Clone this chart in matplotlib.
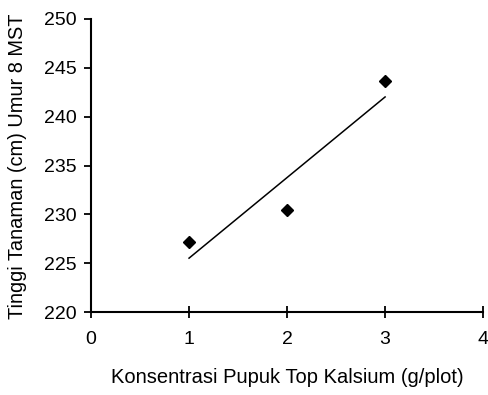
import numpy as np
import matplotlib
matplotlib.use("Agg")
import matplotlib.pyplot as plt

plt.rcParams['font.family'] = ['Liberation Sans', 'DejaVu Sans']

# data
konsentrasi = [1, 2, 3]
tinggi = [227.2, 230.4, 243.7]

x_ticks = [0, 1, 2, 3, 4]
y_ticks = [220, 225, 230, 235, 240, 245, 250]

fig = plt.figure(figsize=(4.88, 3.95), dpi=100)
ax = fig.add_axes([0.1865, 0.21, 0.8035, 0.742])

# linear trend line
slope, intercept = np.polyfit(konsentrasi, tinggi, 1)
xs = np.array([min(konsentrasi), max(konsentrasi)])
ax.plot(xs, slope * xs + intercept, color='black', linewidth=1.1)

ax.plot(konsentrasi, tinggi, linestyle='none', marker='D', markersize=6.5,
        color='black')

ax.set_xlim(0, 4)
ax.set_ylim(220, 250)
ax.set_xticks(x_ticks)
ax.set_yticks(y_ticks)

for s in ['top', 'right']:
    ax.spines[s].set_visible(False)
for s in ['left', 'bottom']:
    ax.spines[s].set_linewidth(1.5)

ax.tick_params(axis='x', direction='inout', length=8, width=1.3, labelsize=14, pad=10)
ax.tick_params(axis='y', direction='out', length=5, width=1.3, labelsize=14, pad=5)

ax.set_xlabel('Konsentrasi Pupuk Top Kalsium (g/plot)', fontsize=14.5, labelpad=14)
fig.text(0.036, 1 - 319 / 395, 'Tinggi Tanaman (cm) Umur 8 MST', rotation=90,
         fontsize=14.4, ha='center', va='bottom')

fig.savefig('out.png', dpi=100)
